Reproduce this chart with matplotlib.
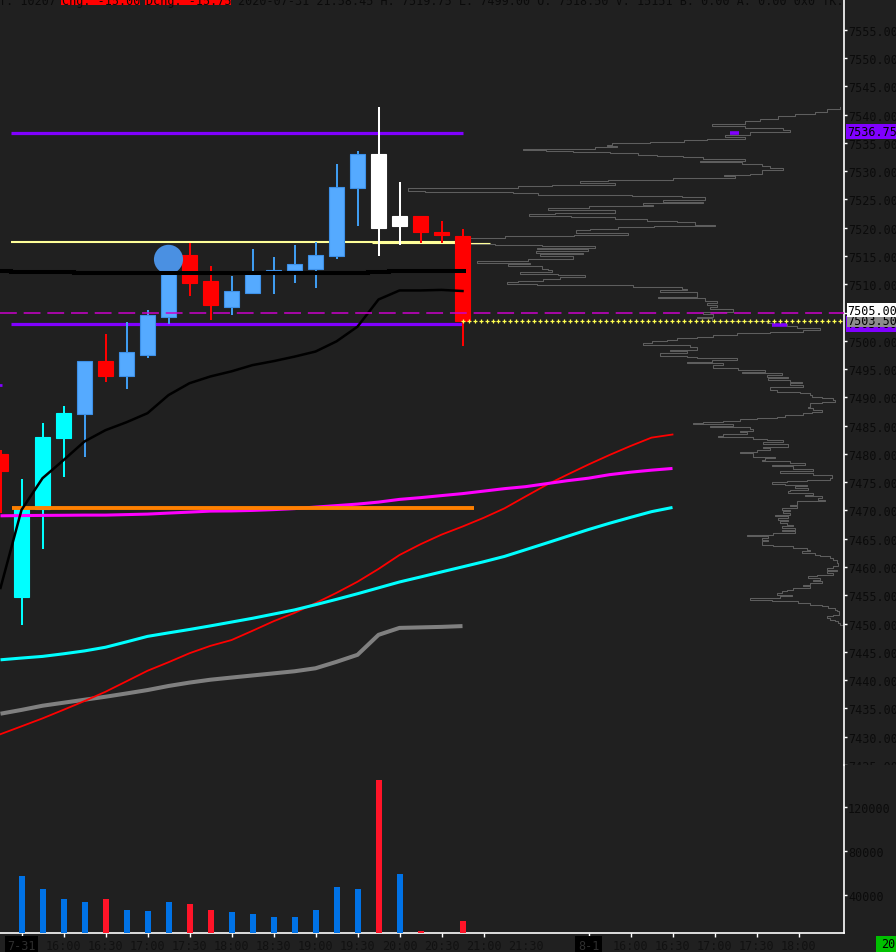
import numpy as np
import matplotlib
matplotlib.use("Agg")
import matplotlib.pyplot as plt
from matplotlib.patches import Rectangle
from matplotlib.transforms import offset_copy

plt.rcParams['font.family'] = ['DejaVu Sans Mono']

# ---------------- data ----------------
# 15-minute bars, index 0 = 15:15 on 7-31
opens  = [7480.0, 7454.75, 7470.25, 7482.75, 7487.0, 7496.5, 7493.75, 7497.5, 7504.25, 7515.25, 7510.5,
          7506.0, 7508.5, 7512.25, 7512.5, 7512.75, 7515.0, 7527.0, 7533.0, 7520.25, 7522.0, 7519.25, 7518.5]
highs  = [7480.75, 7475.5, 7485.5, 7488.5, 7496.5, 7501.25, 7503.25, 7505.5, 7517.0, 7517.25, 7513.25,
          7511.5, 7516.25, 7514.75, 7517.0, 7517.5, 7531.25, 7533.5, 7541.25, 7528.0, 7522.0, 7521.25, 7519.75]
lows   = [7469.5, 7449.75, 7463.25, 7476.0, 7479.5, 7492.75, 7491.5, 7497.0, 7503.0, 7508.0, 7503.75,
          7504.5, 7508.5, 7508.25, 7510.25, 7509.25, 7514.5, 7520.25, 7515.0, 7517.0, 7517.25, 7517.25, 7499.0]
closes = [7477.0, 7470.5, 7483.0, 7487.25, 7496.5, 7493.75, 7498.0, 7504.5, 7514.5, 7510.25, 7506.25,
          7508.75, 7512.25, 7512.5, 7513.5, 7515.25, 7527.25, 7533.0, 7520.0, 7522.0, 7519.25, 7518.75, 7503.5]
bar_tag = ['', 'thrust', 'thrust', 'thrust', '', '', '', '', '', '', '', '', '', '', '', '', '', '',
           'signal', 'signal', '', '', '']
volumes = [np.nan, 57300, 45500, 36400, 33600, 36400, 26400, 25500, 33600, 31800, 26400, 24500, 22700,
           20000, 20000, 26400, 47300, 45500, 144500, 59100, 7300, 4500, 16400]

signal_dot_bar = 8
signal_dot_price = 7514.4

vwap_line = [7512.37, 7512.24, 7512.19, 7512.19] + [7511.94] * 13 + [7511.98, 7512.19, 7512.35, 7512.37, 7512.37, 7512.37]
ema_black = [7456.3, 7470.1, 7475.7, 7478.9, 7482.2, 7484.2, 7485.6, 7487.2, 7490.4, 7492.5, 7493.7, 7494.6,
             7495.7, 7496.4, 7497.2, 7498.1, 7499.9, 7502.5, 7507.3, 7508.9, 7508.9, 7509.0, 7508.8]
ma_gray = [7434.07, 7434.74, 7435.48, 7436.01, 7436.54, 7437.07, 7437.65, 7438.25, 7438.97, 7439.57, 7440.08,
           7440.46, 7440.83, 7441.20, 7441.57, 7442.10, 7443.24, 7444.48, 7448.01, 7449.24, 7449.33, 7449.42, 7449.56]
ma_red = [7430.45, 7431.84, 7433.24, 7434.76, 7436.31, 7437.95, 7439.80, 7441.66, 7443.17, 7444.76, 7446.07,
          7447.09, 7448.73, 7450.41, 7451.89, 7453.62, 7455.44, 7457.40, 7459.66, 7462.13, 7464.03, 7465.73,
          7467.16, 7468.69, 7470.38, 7472.47, 7474.53, 7476.35, 7478.13, 7479.81, 7481.40, 7482.88, 7483.43]
ma_cyan = [7443.60, 7443.91, 7444.20, 7444.66, 7445.17, 7445.82, 7446.77, 7447.74, 7448.36, 7448.96, 7449.60,
           7450.27, 7450.94, 7451.68, 7452.42, 7453.34, 7454.29, 7455.28, 7456.32, 7457.36, 7458.24, 7459.14,
           7460.03, 7460.93, 7461.88, 7463.06, 7464.24, 7465.44, 7466.63, 7467.74, 7468.78, 7469.79, 7470.53]
ma_magenta = [7469.06, 7469.10, 7469.13, 7469.15, 7469.18, 7469.18, 7469.27, 7469.36, 7469.54, 7469.71, 7469.89,
              7469.92, 7470.01, 7470.15, 7470.33, 7470.60, 7470.86, 7471.13, 7471.48, 7471.96, 7472.27, 7472.63,
              7472.98, 7473.42, 7473.86, 7474.21, 7474.74, 7475.27, 7475.71, 7476.33, 7476.77, 7477.13, 7477.43]

# horizontal levels: (price, first bar, last bar)
level_high = (7536.75, 0.5, 22.0)
level_low = (7503.0, 0.5, 22.0)
level_yellow = (7517.5, 0.5, 22.0)
level_yellow2 = (7517.25, 17.7, 23.3)
level_orange = (7470.5, 0.55, 22.55)
level_stub = (7492.25, -0.1, 0.07)
dashed_level = 7505.0
last_price = 7503.5

# price profile on the right (price, depth measured leftwards from the price axis)
profile_price = [7541.36, 7541.01, 7540.48, 7540.12, 7539.77, 7539.24, 7538.89, 7538.36, 7538.01, 7537.65, 7537.30,
    7536.95, 7536.42, 7536.07, 7535.71, 7535.54, 7535.18, 7534.92, 7534.65, 7534.39, 7534.21, 7533.95, 7533.86,
    7533.68, 7533.51, 7533.42, 7533.15, 7532.89, 7532.71, 7532.54, 7532.18, 7531.83, 7531.57, 7531.21, 7530.86,
    7530.51, 7530.24, 7529.54, 7529.36, 7529.09, 7528.74, 7528.48, 7528.21, 7527.86, 7527.59, 7527.33, 7527.07,
    7526.41, 7526.31, 7526.09, 7525.83, 7525.71, 7525.53, 7525.35, 7524.95, 7524.59, 7524.33, 7524.07, 7523.80,
    7523.54, 7523.09, 7522.65, 7522.35, 7522.07, 7521.82, 7521.54, 7521.19, 7521.01, 7520.54, 7520.24, 7520.06,
    7519.83, 7519.57, 7519.00, 7518.77, 7518.59, 7518.24, 7517.06, 7516.92, 7516.78, 7516.48, 7516.18, 7515.89,
    7515.59, 7515.29, 7514.94, 7514.54, 7514.13, 7513.83, 7513.53, 7513.25, 7512.77, 7512.47, 7512.19, 7511.89,
    7511.59, 7511.31, 7511.01, 7510.65, 7510.42, 7510.07, 7509.82, 7509.54, 7509.24, 7508.94, 7508.54, 7507.83,
    7507.48, 7507.12, 7506.72, 7506.29, 7505.89, 7505.54, 7505.13, 7504.65, 7504.25, 7503.95, 7503.54, 7503.19,
    7502.89, 7502.54, 7502.31, 7501.95, 7501.60, 7501.30, 7500.95, 7500.72, 7500.42, 7500.15, 7499.89, 7499.54,
    7499.18, 7498.83, 7498.39, 7498.12, 7497.77, 7497.37, 7497.19, 7496.89, 7496.59, 7496.31, 7496.01, 7495.71,
    7495.12, 7494.82, 7494.54, 7494.24, 7493.94, 7493.66, 7493.36, 7493.06, 7492.78, 7492.48, 7492.18, 7491.89,
    7491.29, 7491.01, 7490.71, 7490.41, 7490.13, 7489.83, 7489.53, 7489.25, 7488.95, 7488.37, 7488.07, 7487.77,
    7487.48, 7487.18, 7486.88, 7486.60, 7486.42, 7486.12, 7485.89, 7485.59, 7485.42, 7485.24, 7485.01, 7484.71,
    7484.41, 7484.13, 7483.83, 7483.53, 7483.25, 7482.95, 7482.65, 7482.47, 7482.19, 7481.71, 7481.31, 7481.01,
    7480.71, 7480.42, 7480.12, 7479.54, 7479.24, 7478.94, 7478.66, 7478.36, 7478.06, 7477.78, 7477.35, 7477.00,
    7476.59, 7476.29, 7475.71, 7475.41, 7475.13, 7474.95, 7474.71, 7474.53, 7474.25, 7473.95, 7473.65, 7473.37,
    7473.07, 7472.77, 7472.48, 7472.18, 7471.88, 7471.60, 7471.00, 7470.72, 7470.42, 7470.12, 7469.84, 7469.54,
    7469.24, 7468.95, 7468.65, 7468.35, 7468.07, 7467.77, 7467.47, 7467.19, 7466.89, 7466.59, 7466.31, 7466.01,
    7465.71, 7465.42, 7465.12, 7464.82, 7464.54, 7463.94, 7463.66, 7463.36, 7463.06, 7462.78, 7462.48, 7462.18,
    7461.89, 7461.59, 7461.29, 7460.71, 7460.13, 7459.83, 7459.53, 7459.25, 7458.95, 7458.65, 7458.37, 7458.07,
    7457.77, 7457.48, 7457.18, 7456.88, 7456.60, 7456.30, 7456.00, 7455.72, 7455.42, 7455.12, 7454.84, 7454.54,
    7454.24, 7453.95, 7453.65, 7453.35, 7453.07, 7452.77, 7452.47, 7452.19, 7451.59, 7451.31, 7451.01, 7450.71,
    7450.42, 7450.12, 7449.77]
profile_depth = [4, 17, 29, 49, 66, 84, 99, 132, 99, 61, 54,
    94, 119, 99, 137, 160, 194, 232, 237, 227, 249, 291, 321,
    298, 271, 234, 206, 187, 161, 141, 99, 144, 102, 82, 74,
    61, 82, 94, 120, 109, 171, 236, 264, 229, 292, 326, 436,
    419, 331, 306, 267, 212, 162, 139, 181, 141, 201, 191, 255,
    296, 229, 289, 315, 273, 229, 197, 167, 149, 129, 190, 226,
    254, 268, 216, 270, 339, 374, 349, 302, 249, 307, 256, 308,
    261, 304, 271, 316, 367, 314, 336, 302, 296, 292, 324, 286,
    259, 284, 301, 326, 337, 307, 211, 162, 157, 184, 147, 186,
    139, 127, 137, 127, 134, 111, 141, 131, 147, 132, 77, 71,
    57, 47, 24, 41, 74, 107, 131, 147, 167, 177, 192, 201,
    154, 147, 174, 157, 184, 157, 147, 107, 132, 157, 121, 131,
    106, 79, 102, 62, 77, 56, 76, 54, 42, 54, 41, 74,
    67, 44, 34, 32, 22, 11, 9, 22, 34, 36, 31, 22,
    32, 41, 59, 67, 87, 104, 121, 141, 151, 111, 134, 94,
    91, 104, 97, 121, 126, 91, 77, 61, 81, 56, 81, 74,
    87, 104, 91, 69, 79, 82, 54, 39, 72, 51, 31, 64,
    31, 12, 14, 37, 57, 72, 59, 37, 49, 36, 54, 56,
    31, 39, 22, 26, 19, 47, 54, 47, 62, 54, 61, 54,
    69, 56, 66, 56, 64, 57, 51, 62, 49, 62, 49, 71,
    97, 76, 82, 76, 82, 71, 51, 37, 34, 42, 29, 24,
    14, 11, 7, 6, 11, 17, 7, 17, 11, 27, 36, 24,
    31, 22, 34, 41, 34, 51, 57, 62, 67, 52, 64, 94,
    72, 46, 34, 22, 16, 9, 7, 5, 11, 17, 14, 9,
    6, 4, 1]
profile_marks = [(7536.8, 105, 114), (7502.85, 57, 72)]

price_ticks = list(range(7425, 7560, 5))
volume_ticks = [40000, 80000, 120000]
time_tick_pos = [1, 3, 5, 7, 9, 11, 13, 15, 17, 19, 21, 23, 25, 28, 30, 32, 34, 36, 38]
time_tick_labels = ['7-31', '16:00', '16:30', '17:00', '17:30', '18:00', '18:30', '19:00', '19:30', '20:00',
                    '20:30', '21:00', '21:30', '8-1', '16:00', '16:30', '17:00', '17:30', '18:00']
date_labels = ['7-31', '8-1']

header_left = "T: 10207"
header_chg = "Chg: -15.00"
header_dchg = "Dchg: -15.75"
header_right = "2020-07-31 21:58:45 H: 7519.75 L: 7499.00 O: 7518.50 V: 15151 B: 0.00 A: 0.00 0x0 TK:"

# ---------------- styling ----------------
BG = '#202020'
TXT = '#0b0b0b'
W, H, DPI = 896, 953, 100
AX_RIGHT = 843.7
PRICE_BOTTOM = 766
VOL_BOTTOM = 934
PX_PER_BAR = 21.0
FS = 8.5

def fx(px):
    return px / W

def fy(py):
    return 1 - py / H

fig = plt.figure(figsize=(W / DPI, H / DPI), dpi=DPI, facecolor=BG)
ax = fig.add_axes([0, fy(PRICE_BOTTOM), fx(AX_RIGHT), PRICE_BOTTOM / H])
axv = fig.add_axes([0, fy(VOL_BOTTOM), fx(AX_RIGHT), (VOL_BOTTOM - PRICE_BOTTOM) / H])
axv.set_zorder(2)
ax.patch.set_visible(False)
axv.patch.set_visible(False)

xlim = (-0.5 / PX_PER_BAR, (AX_RIGHT - 0.5) / PX_PER_BAR)
ax.set_xlim(*xlim)
axv.set_xlim(*xlim)
ax.set_ylim(7425.0, 7560.43)
axv.set_ylim(5455, 158182)

# profile axes (behind price content)
axp = ax.twiny()
axp.set_zorder(-1)
axp.patch.set_visible(False)
axp.set_xlim(AX_RIGHT, 0)
axp.set_xticks([])
for s in axp.spines.values():
    s.set_visible(False)
axp.plot(profile_depth, profile_price, drawstyle='steps-pre', color='#5e5e5e', lw=0.75)
for p, d0, d1 in profile_marks:
    axp.plot([d0, d1], [p, p], color='#8000ff', lw=2.6, solid_capstyle='butt')

# levels
def level(lv, color, lw, z=2):
    p, a, b = lv
    ax.plot([a, b], [p, p], color=color, lw=lw, solid_capstyle='butt', zorder=z)

level(level_high, '#8000ff', 2.3)
level(level_low, '#8000ff', 2.3)
level(level_yellow, '#ffff99', 1.5)
level(level_yellow2, '#ffff99', 0.8)
level(level_stub, '#8000ff', 2.0)

# candles
BODY_W = 15 / PX_PER_BAR
for i in range(len(opens)):
    o, h, l, c = opens[i], highs[i], lows[i], closes[i]
    up = c >= o
    if bar_tag[i] == 'signal':
        fill, edge, wick = '#ffffff', '#ffffff', '#ffffff'
    elif not up:
        fill, edge, wick = '#ff0000', '#ff0000', '#ff0000'
    elif bar_tag[i] == 'thrust':
        fill, edge, wick = '#00ffff', '#00ffff', '#00ffff'
    else:
        fill, edge, wick = '#55aaff', '#3d90e8', '#3f9cf0'
    ax.vlines(i, l, h, color=wick, lw=1.45, zorder=3)
    ax.bar(i, max(abs(c - o), 0.2), bottom=min(o, c), width=BODY_W, color=fill,
           edgecolor=edge, linewidth=0.8, zorder=3.1)

# moving averages
ax.plot(np.arange(len(ma_gray)), ma_gray, color='#808080', lw=2.9, zorder=4, solid_capstyle='butt')
ax.plot(np.arange(len(ma_red)), ma_red, color='#ff0000', lw=1.3, zorder=4)
ax.plot(np.arange(len(ma_cyan)), ma_cyan, color='#00ffff', lw=2.2, zorder=4, solid_capstyle='butt')
ax.plot(np.arange(len(ma_magenta)), ma_magenta, color='#ff00ff', lw=2.2, zorder=4, solid_capstyle='butt')
level(level_orange, '#ff8000', 2.8, z=4.2)

ax.scatter([signal_dot_bar], [signal_dot_price], s=440, color='#4a90e2', edgecolors='none', zorder=4.5)

edges = np.append(np.arange(-0.5, len(vwap_line) - 1, 1.0), len(vwap_line) - 1 + 0.15)
ax.stairs(vwap_line, edges, baseline=None, color='#000000', lw=2.9, zorder=5)
ax.plot(np.arange(len(ema_black)), ema_black, color='#000000', lw=1.8, zorder=5)

# dashed level and last-price marker line
ax.axhline(dashed_level, color='#cc00cc', lw=1.1, dashes=(11, 4.5), zorder=6)
xs = np.arange(len(closes) - 1, xlim[1], 6 / PX_PER_BAR)
ax.plot(xs, [last_price] * len(xs), ls='none', marker='+', ms=2.6, mew=0.9, color='#ffff50', zorder=6)

# price axis styling
for name, s in ax.spines.items():
    s.set_visible(name == 'right')
ax.spines['right'].set_color('white')
ax.spines['right'].set_linewidth(1.2)
ax.set_xticks([])
ax.yaxis.tick_right()
ax.set_yticks(price_ticks)
ax.set_yticklabels([f"{v:.2f}" for v in price_ticks])
ax.tick_params(axis='y', direction='out', length=2.3, width=1, color='white',
               labelcolor=TXT, labelsize=FS, pad=0.8)

# highlighted price labels
ytr = ax.get_yaxis_transform()
lx = 1 + 3.6 / AX_RIGHT
ax.text(lx, level_high[0], f"{level_high[0]:.2f}", transform=offset_copy(ytr, fig=fig, y=1.5, units='dots'),
        va='center', ha='left', fontsize=FS, color='black', clip_on=False, zorder=10,
        bbox=dict(boxstyle='square,pad=0.12', fc='#8000ff', ec='none'))
ax.text(lx, level_low[0], f"{level_low[0]:.2f}", transform=ytr, va='center', ha='left', fontsize=FS,
        color='black', clip_on=False, zorder=10, bbox=dict(boxstyle='square,pad=0.1', fc='#8000ff', ec='none'))
ax.text(lx, last_price, f"{last_price:.2f}", transform=ytr, va='center', ha='left', fontsize=FS,
        color='black', clip_on=False, zorder=11, bbox=dict(boxstyle='square,pad=0.0', fc='#8c8c8c', ec='none'))
ax.text(lx, dashed_level, f"{dashed_level:.2f}", transform=offset_copy(ytr, fig=fig, y=2.5, units='dots'),
        va='center', ha='left', fontsize=FS, color='black', clip_on=False, zorder=12,
        bbox=dict(boxstyle='square,pad=0.02', fc='#ffffff', ec='none'))

# cover for price labels below the price panel
fig.patches.append(Rectangle((fx(AX_RIGHT + 1.2), fy(VOL_BOTTOM)), fx(W - AX_RIGHT), (VOL_BOTTOM - PRICE_BOTTOM) / H,
                             transform=fig.transFigure, fc=BG, ec='none', zorder=1))

# volume panel
vol = np.array(volumes, dtype=float)
vcolors = ['#ff1428' if closes[i] < opens[i] else '#0072e6' for i in range(len(opens))]
axv.bar(np.arange(len(vol)), np.nan_to_num(vol), width=6 / PX_PER_BAR, color=vcolors, zorder=3)
for name, s in axv.spines.items():
    s.set_visible(name in ('right', 'bottom'))
    s.set_color('white')
    s.set_linewidth(1.2)
axv.yaxis.tick_right()
axv.set_yticks(volume_ticks)
axv.set_yticklabels([str(v) for v in volume_ticks])
axv.tick_params(axis='y', direction='out', length=2.3, width=1, color='white',
                labelcolor=TXT, labelsize=FS, pad=0.8)
axv.set_xticks(time_tick_pos)
axv.set_xticklabels(time_tick_labels)
axv.tick_params(axis='x', direction='out', length=3, width=1, color='white',
                labelcolor='#111111', labelsize=FS, pad=1.2)
for tk, lab in zip(axv.xaxis.get_major_ticks(), time_tick_labels):
    if lab == '21:30':
        tk.tick1line.set_visible(False)
for t in axv.get_xticklabels():
    if t.get_text() in date_labels:
        t.set_color('#2e2e2e')
        t.set_bbox(dict(boxstyle='square,pad=0.2', fc='black', ec='none'))

# bottom-right corner box
fig.patches.append(Rectangle((fx(876), 0), fx(W - 876), 16 / H, transform=fig.transFigure,
                             fc='#00c000', ec='none', zorder=3))
fig.text(fx(881), fy(945), "20", fontsize=FS, color='black', va='center', ha='left', zorder=4)

# header line (cut at the top of the image)
fig.patches.append(Rectangle((fx(61), fy(6)), fx(78.5), 6 / H, transform=fig.transFigure,
                             fc='#ff0000', ec='none', zorder=3))
fig.patches.append(Rectangle((fx(145), fy(6)), fx(86), 6 / H, transform=fig.transFigure,
                             fc='#ff0000', ec='none', zorder=3))
for xpx, s in [(-1, header_left), (62, header_chg), (146, header_dchg), (237.7, header_right)]:
    fig.text(fx(xpx), fy(5), s, fontsize=FS, color=TXT, va='baseline', ha='left', zorder=4)

fig.savefig('out.png', dpi=DPI, facecolor=BG)
